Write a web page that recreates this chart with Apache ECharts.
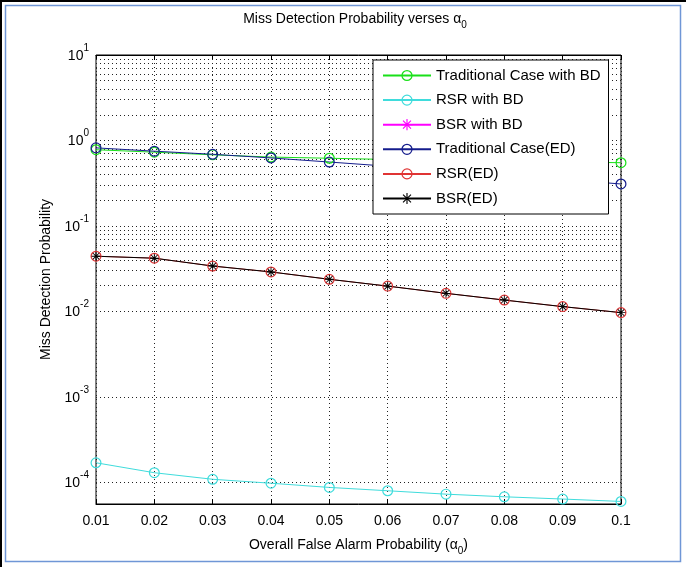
<!DOCTYPE html>
<html><head><meta charset="utf-8">
<script src="https://cdn.jsdelivr.net/npm/echarts@6/dist/echarts.min.js"></script>
<style>html,body{margin:0;padding:0;background:#fff}#c{width:686px;height:567px}</style>
</head><body><div id="c"></div>
<script>
// ---- data ----
const alphaLabels = ['0.01','0.02','0.03','0.04','0.05','0.06','0.07','0.08','0.09','0.1'];
const tradBD = [0.78, 0.73, 0.68, 0.64, 0.62, 0.60, 0.585, 0.57, 0.56, 0.55];
const rsrBD  = [1.70e-4, 1.30e-4, 1.09e-4, 9.8e-5, 8.75e-5, 8.0e-5, 7.3e-5, 6.8e-5, 6.4e-5, 6.0e-5];
const bsrBD  = []; // not visible inside the plotted range
const tradED = [0.82, 0.75, 0.69, 0.625, 0.56, 0.50, 0.44, 0.39, 0.35, 0.31];
const rsrED  = [0.0443, 0.042, 0.034, 0.029, 0.0238, 0.0198, 0.0163, 0.0136, 0.0114, 0.0097];
const bsrED  = [0.0443, 0.042, 0.034, 0.029, 0.0238, 0.0198, 0.0163, 0.0136, 0.0114, 0.0097];
const yMin = 5.6e-5, yMax = 10;
const seriesNames = ['Traditional Case with BD','RSR with BD','BSR with BD','Traditional Case(ED)','RSR(ED)','BSR(ED)'];

// minor log grid positions (2..9 x 10^n)
const minorGrid = [];
for (let n = -5; n <= 0; n++) for (let k = 2; k <= 9; k++) {
  const v = k * Math.pow(10, n);
  if (v > yMin && v < yMax) minorGrid.push(v);
}

const FONT = 'Liberation Sans, Arial, Helvetica, sans-serif';
const asterisk = 'path://M9 0 L11 0 L11 20 L9 20 Z M0 9 L20 9 L20 11 L0 11 Z M2.2 3.6 L3.6 2.2 L17.8 16.4 L16.4 17.8 Z M16.4 2.2 L17.8 3.6 L3.6 17.8 L2.2 16.4 Z';
const ring = 'path://M10 0 A10 10 0 1 1 10 20 A10 10 0 1 1 10 0 Z M10 2.2 A7.8 7.8 0 1 0 10 17.8 A7.8 7.8 0 1 0 10 2.2 Z';
const dotted = {type: [1, 3], color: '#222', width: 1};

const chart = echarts.init(document.getElementById('c'), null, {renderer: 'canvas'});

function lineSeries(name, data, color, symbol, size) {
  return {
    name, type: 'line', data,
    xAxisIndex: 0, yAxisIndex: 0,
    symbol, symbolSize: size, showAllSymbol: true,
    lineStyle: {color, width: 1},
    itemStyle: {color, borderWidth: 0},
    emphasis: {disabled: true},
    animation: false
  };
}

const supRich = {
  b: {fontSize: 14, fontFamily: FONT, color: '#000', lineHeight: 16, verticalAlign: 'bottom'},
  s: {fontSize: 10, fontFamily: FONT, color: '#000', lineHeight: 10, verticalAlign: 'bottom', padding: [0, 0, 10, 0]}
};
const subRich = {
  t: {fontSize: 14, fontWeight: 'normal', fontFamily: FONT, color: '#000', lineHeight: 16, verticalAlign: 'bottom', padding: [0, 0, 4, 0]},
  sub: {fontSize: 10, fontWeight: 'normal', fontFamily: FONT, color: '#000', lineHeight: 10, verticalAlign: 'bottom'}
};

const option = {
  backgroundColor: '#fff',
  animation: false,
  textStyle: {fontFamily: FONT},
  title: {
    text: '{t|Miss Detection Probability verses α}{sub|0}',
    left: 350, top: 9, textAlign: 'center',
    textStyle: {fontWeight: 'normal', rich: subRich}
  },
  grid: {left: 96, right: 65, top: 55, bottom: 63, show: true, borderColor: '#000', borderWidth: 1},
  legend: {
    data: seriesNames,
    orient: 'vertical', left: 373, top: 60, z: 10,
    padding: [8, 8, 8, 9],
    itemWidth: 48, itemHeight: 14, itemGap: 9.6,
    backgroundColor: '#fff', borderColor: '#000', borderWidth: 1, borderRadius: 0,
    textStyle: {fontSize: 15, color: '#000', fontFamily: FONT},
    selectedMode: false
  },
  xAxis: [{
    type: 'category', data: alphaLabels, boundaryGap: false,
    name: '{t|Overall False Alarm Probability (α}{sub|0}{t|)}',
    nameLocation: 'middle', nameGap: 36,
    nameTextStyle: {rich: subRich},
    axisLine: {lineStyle: {color: '#000'}},
    axisTick: {inside: true, length: 5, lineStyle: {color: '#000'}},
    axisLabel: {fontSize: 14, color: '#000', fontFamily: FONT, margin: 10},
    splitLine: {show: true, lineStyle: dotted}
  }, {
    type: 'category', data: alphaLabels, boundaryGap: false, position: 'top',
    axisLine: {lineStyle: {color: '#000'}},
    axisTick: {inside: true, length: 5, lineStyle: {color: '#000'}},
    axisLabel: {show: false}, splitLine: {show: false}
  }],
  yAxis: [{
    type: 'log', logBase: 10, min: yMin, max: yMax,
    name: 'Miss Detection Probability', nameLocation: 'middle', nameGap: 38,
    nameTextStyle: {fontSize: 14, color: '#000', fontFamily: FONT},
    axisLine: {lineStyle: {color: '#000'}},
    axisTick: {inside: true, length: 5, lineStyle: {color: '#000'}},
    axisLabel: {
      showMinLabel: false, margin: 7,
      formatter: v => '{b|10}{s|' + Math.round(Math.log10(v)) + '}',
      rich: supRich
    },
    splitLine: {show: true, lineStyle: dotted}
  }, {
    type: 'log', logBase: 10, min: yMin, max: yMax, position: 'right',
    axisLine: {lineStyle: {color: '#000'}},
    axisTick: {inside: true, length: 5, lineStyle: {color: '#000'}},
    axisLabel: {show: false}, splitLine: {show: false}
  }],
  graphic: [
    {type: 'line', shape: {x1: 0, y1: 1, x2: 686, y2: 1}, style: {stroke: '#000', lineWidth: 2}, silent: true},
    {type: 'line', shape: {x1: 1, y1: 0, x2: 1, y2: 567}, style: {stroke: '#000', lineWidth: 2}, silent: true},
    {type: 'rect', shape: {x: 5.5, y: 5.5, width: 675, height: 556}, style: {fill: 'none', stroke: '#6f96d6', lineWidth: 1.5}, silent: true}
  ],
  series: [
    {
      name: 'minorGrid', type: 'line', data: [], z: 1, silent: true,
      markLine: {
        z: 1, silent: true, symbol: 'none', label: {show: false}, animation: false,
        lineStyle: dotted, emphasis: {disabled: true},
        data: minorGrid.map(v => ({yAxis: v}))
      }
    },
    lineSeries(seriesNames[0], tradBD, '#19e019', ring, 11),
    lineSeries(seriesNames[1], rsrBD, '#3fdcdc', ring, 11),
    lineSeries(seriesNames[2], bsrBD, '#ff00ff', asterisk, 9),
    lineSeries(seriesNames[3], tradED, '#141c8c', ring, 11),
    lineSeries(seriesNames[4], rsrED, '#e03434', ring, 11),
    lineSeries(seriesNames[5], bsrED, '#000000', asterisk, 9)
  ]
};
chart.setOption(option);
</script>
</body></html>
